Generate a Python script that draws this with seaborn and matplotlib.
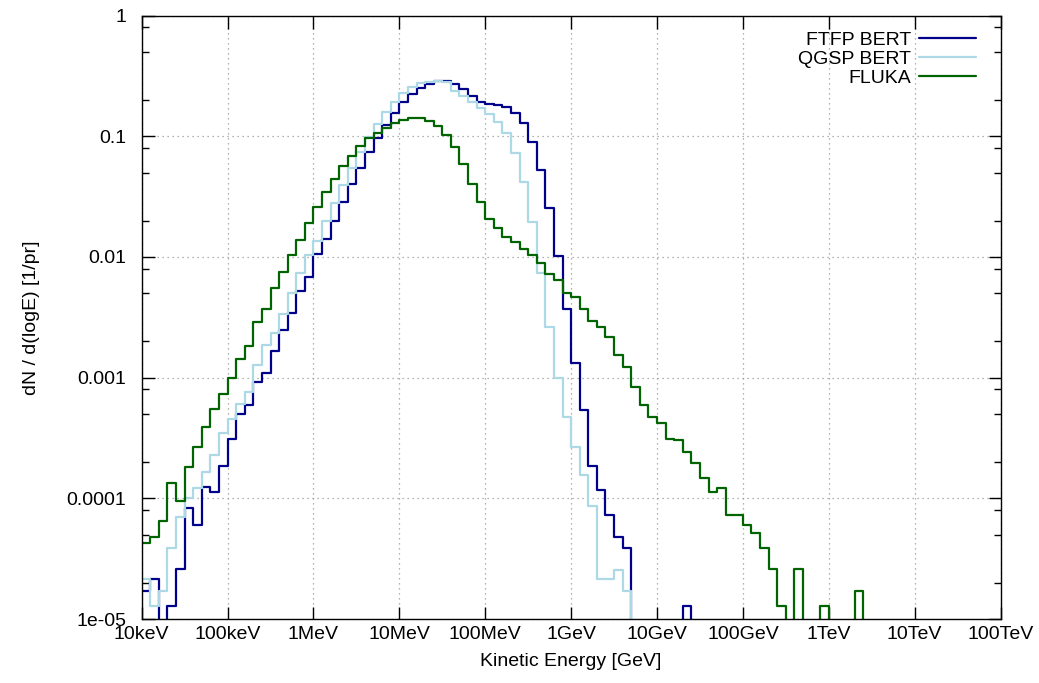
import numpy as np
import pandas as pd
import matplotlib
matplotlib.use("Agg")
import matplotlib.pyplot as plt
from matplotlib.lines import Line2D
from matplotlib.ticker import FixedLocator, FixedFormatter, NullFormatter
import seaborn as sns

# ---------------- data ----------------
# histogram binning: 10 bins per decade, 10 keV .. 100 TeV (energies in GeV)
log_e_min = -5
log_e_max = 5
bins_per_decade = 10

ftfp_bert = [
    1.71e-5, 2.14e-5, 0.0, 1.28e-5, 2.58e-5, 8.26e-5, 6.04e-5, 1.25e-4, 1.12e-4, 1.85e-4,
    3.08e-4, 4.97e-4, 5.93e-4, 9.16e-4, 1.10e-3, 1.66e-3, 2.48e-3, 3.45e-3, 5.21e-3, 6.81e-3,
    1.06e-2, 1.42e-2, 2.00e-2, 2.85e-2, 4.00e-2, 5.48e-2, 7.40e-2, 9.72e-2, 0.125, 0.157,
    0.191, 0.224, 0.253, 0.273, 0.288, 0.287, 0.271, 0.245, 0.217, 0.193,
    0.186, 0.182, 0.176, 0.157, 0.128, 9.0e-2, 5.27e-2, 2.54e-2, 1.02e-2, 3.68e-3,
    1.33e-3, 5.40e-4, 1.85e-4, 1.17e-4, 7.31e-5, 4.75e-5, 3.87e-5, 0.0, 0.0, 0.0,
    0.0, 0.0, 0.0, 1.28e-5, 0.0, 0.0, 0.0, 0.0, 0.0, 0.0,
    0.0, 0.0, 0.0, 0.0, 0.0, 0.0, 0.0, 0.0, 0.0, 0.0,
    0.0, 0.0, 0.0, 0.0, 0.0, 0.0, 0.0, 0.0, 0.0, 0.0,
    0.0, 0.0, 0.0, 0.0, 0.0, 0.0, 0.0, 0.0, 0.0, 0.0,
]

qgsp_bert = [
    2.14e-5, 1.28e-5, 1.71e-5, 3.85e-5, 6.97e-5, 1.00e-4, 1.22e-4, 1.64e-4, 2.30e-4, 3.46e-4,
    4.52e-4, 6.04e-4, 7.67e-4, 1.26e-3, 1.86e-3, 2.36e-3, 3.34e-3, 4.99e-3, 7.40e-3, 1.03e-2,
    1.36e-2, 1.97e-2, 2.81e-2, 3.92e-2, 5.48e-2, 7.36e-2, 9.91e-2, 0.126, 0.158, 0.191,
    0.227, 0.254, 0.274, 0.281, 0.287, 0.280, 0.238, 0.215, 0.191, 0.172,
    0.153, 0.132, 0.107, 7.21e-2, 4.15e-2, 1.95e-2, 7.40e-3, 2.61e-3, 1.00e-3, 4.74e-4,
    2.68e-4, 1.55e-4, 8.63e-5, 2.14e-5, 2.14e-5, 2.56e-5, 1.71e-5, 0.0, 0.0, 0.0,
    0.0, 0.0, 0.0, 0.0, 0.0, 0.0, 0.0, 0.0, 0.0, 0.0,
    0.0, 0.0, 0.0, 0.0, 0.0, 0.0, 0.0, 0.0, 0.0, 0.0,
    0.0, 0.0, 0.0, 0.0, 0.0, 0.0, 0.0, 0.0, 0.0, 0.0,
    0.0, 0.0, 0.0, 0.0, 0.0, 0.0, 0.0, 0.0, 0.0, 0.0,
]

fluka = [
    4.29e-5, 4.78e-5, 6.44e-5, 1.33e-4, 9.51e-5, 1.81e-4, 2.65e-4, 3.90e-4, 5.52e-4, 7.31e-4,
    1.00e-3, 1.43e-3, 1.84e-3, 2.90e-3, 3.72e-3, 5.56e-3, 7.50e-3, 1.04e-2, 1.38e-2, 1.92e-2,
    2.61e-2, 3.44e-2, 4.40e-2, 5.66e-2, 6.89e-2, 8.24e-2, 9.61e-2, 0.107, 0.118, 0.128,
    0.135, 0.142, 0.141, 0.133, 0.122, 0.102, 8.09e-2, 5.89e-2, 4.04e-2, 2.86e-2,
    2.07e-2, 1.73e-2, 1.45e-2, 1.34e-2, 1.17e-2, 1.04e-2, 8.95e-3, 7.26e-3, 6.44e-3, 5.05e-3,
    4.66e-3, 3.72e-3, 2.94e-3, 2.62e-3, 2.16e-3, 1.54e-3, 1.22e-3, 8.41e-4, 5.90e-4, 4.72e-4,
    4.18e-4, 3.10e-4, 3.04e-4, 2.43e-4, 1.97e-4, 1.47e-4, 1.12e-4, 1.21e-4, 7.28e-5, 7.28e-5,
    6.01e-5, 5.13e-5, 3.85e-5, 2.58e-5, 1.28e-5, 0.0, 2.58e-5, 0.0, 0.0, 1.28e-5,
    0.0, 0.0, 0.0, 1.71e-5, 0.0, 0.0, 0.0, 0.0, 0.0, 0.0,
    0.0, 0.0, 0.0, 0.0, 0.0, 0.0, 0.0, 0.0, 0.0, 0.0,
]

series_names = ["FTFP BERT", "QGSP BERT", "FLUKA"]
series_values = [ftfp_bert, qgsp_bert, fluka]
series_colors = ["#00008b", "#add8e6", "#006400"]

x_tick_labels = ["10keV", "100keV", "1MeV", "10MeV", "100MeV", "1GeV",
                 "10GeV", "100GeV", "1TeV", "10TeV", "100TeV"]
y_tick_labels = ["1e-05", "0.0001", "0.001", "0.01", "0.1", "1"]
x_label = "Kinetic Energy [GeV]"
y_label = "dN / d(logE) [1/pr]"

# ---------------- build long-form table ----------------
n_bins = (log_e_max - log_e_min) * bins_per_decade
edges = np.logspace(log_e_min, log_e_max, n_bins + 1)
floor = 1e-9  # empty bins fall below the visible range, like gnuplot histeps
rows = []
for name, vals in zip(series_names, series_values):
    v = np.asarray(vals, dtype=float)
    v = np.where(v > 0, v, floor)
    v = np.append(v, v[-1])
    for e, y in zip(edges, v):
        rows.append((name, e, y))
df = pd.DataFrame(rows, columns=["series", "energy", "value"])

# ---------------- plot ----------------
sns.set_style("ticks")
plt.rcParams["font.family"] = ["Liberation Sans", "DejaVu Sans"]
for key in ("text.color", "axes.labelcolor", "xtick.color", "ytick.color"):
    plt.rcParams[key] = "black"
fs = 14

fig = plt.figure(figsize=(10.39, 6.83), dpi=100)
ax = fig.add_axes([0.1364, 0.0937, 0.8266, 0.8836])

ax.set_xscale("log")
ax.set_yscale("log")

sns.lineplot(data=df, x="energy", y="value", hue="series",
             hue_order=series_names, palette=series_colors,
             estimator=None, sort=False, drawstyle="steps-post",
             linewidth=1.6, legend=False, ax=ax)

ax.set_xlim(10.0 ** log_e_min, 10.0 ** log_e_max)
ax.set_ylim(1e-5, 1)

xt = 10.0 ** np.arange(log_e_min, log_e_max + 1)
ax.xaxis.set_major_locator(FixedLocator(xt))
ax.xaxis.set_major_formatter(FixedFormatter(x_tick_labels))
ax.xaxis.set_minor_locator(FixedLocator([]))

yt = 10.0 ** np.arange(-5, 1)
ax.yaxis.set_major_locator(FixedLocator(yt))
ax.yaxis.set_major_formatter(FixedFormatter(y_tick_labels))
ymin = []
for d in range(-5, 0):
    for m in (2, 5, 8):
        ymin.append(m * 10.0 ** d)
ax.yaxis.set_minor_locator(FixedLocator(ymin))
ax.yaxis.set_minor_formatter(NullFormatter())

ax.tick_params(which="major", direction="in", length=9, width=1.0,
               top=True, right=True, labelsize=fs, colors="black")
ax.tick_params(axis="y", which="major", pad=11)
ax.tick_params(axis="x", which="major", pad=5)
ax.tick_params(which="minor", direction="in", length=5, width=1.0,
               top=True, right=True)

ax.grid(which="major", color="#999999", linestyle=(0, (1, 3)), linewidth=0.9)
for s in ax.spines.values():
    s.set_color("black")
    s.set_linewidth(1.0)

ax.set_xlabel(x_label, fontsize=fs, labelpad=7)
ax.set_ylabel(y_label, fontsize=fs, labelpad=19)

handles = [Line2D([], [], color=c, linewidth=1.6) for c in series_colors]
ax.legend(handles, series_names, loc="upper right",
          bbox_to_anchor=(976 / 1039, 1 - 31 / 683),
          bbox_transform=fig.transFigure, frameon=False, markerfirst=False,
          handlelength=2.95, handletextpad=0.4, labelspacing=0.07,
          borderaxespad=0, borderpad=0, fontsize=fs)

fig.savefig("out.png", dpi=100)
